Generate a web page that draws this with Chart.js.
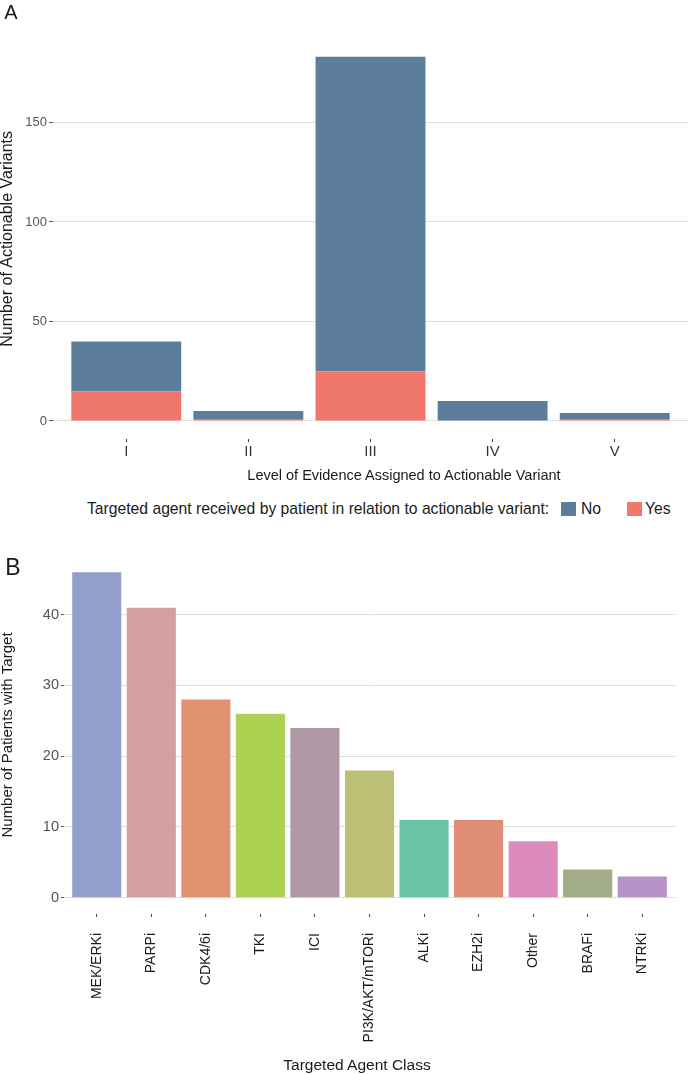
<!DOCTYPE html>
<html>
<head>
<meta charset="utf-8">
<script src="https://cdn.jsdelivr.net/npm/chart.js@4.4.0/dist/chart.umd.min.js"></script>
<style>
  body { margin: 0; background: #fff; font-family: "Liberation Sans", Arial, sans-serif; }
  #wrap { position: relative; width: 688px; height: 1074px; overflow: hidden; }
  canvas { position: absolute; left: 0; }
  .t { position: absolute; white-space: nowrap; color: #1a1a1a; line-height: 1; transform: translate(-50%, -50%); }
  .l { position: absolute; white-space: nowrap; color: #1a1a1a; line-height: 1; transform: translateY(-50%); }
  .sw { position: absolute; width: 15px; height: 14px; }
</style>
</head>
<body>
<div id="wrap">
  <canvas id="chartA" style="top:0; width:688px; height:470px;"></canvas>
  <canvas id="chartB" style="top:540px; width:688px; height:534px;"></canvas>

  <div class="t" style="left:11px; top:12px; font-size:20px;">A</div>
  <div class="t" style="left:404px; top:475px; font-size:14.5px;">Level of Evidence Assigned to Actionable Variant</div>
  <div class="l" style="left:87px; top:509px; font-size:15.7px;">Targeted agent received by patient in relation to actionable variant:</div>
  <div class="sw" id="swNo" style="left:561px; top:502px;"></div>
  <div class="l" style="left:581px; top:509px; font-size:15.7px;">No</div>
  <div class="sw" id="swYes" style="left:627px; top:502px;"></div>
  <div class="l" style="left:645px; top:509px; font-size:15.7px;">Yes</div>

  <div class="t" style="left:13px; top:567px; font-size:23px;">B</div>
  <div class="t" style="left:357px; top:1065px; font-size:15.5px;">Targeted Agent Class</div>
</div>

<script>
// Panel A: actionable variants by level of evidence
const levels = ['I', 'II', 'III', 'IV', 'V'];
const receivedYes = [15, 1, 25, 0, 1];
const receivedNo = [25, 4, 158, 10, 3];
const colorNo = '#5c7e9b';
const colorYes = '#f0776b';

// Panel B: patients per targeted agent class
const agentClasses = ['MEK/ERKi', 'PARPi', 'CDK4/6i', 'TKI', 'ICI', 'PI3K/AKT/mTORi',
  'ALKi', 'EZH2i', 'Other', 'BRAFi', 'NTRKi'];
const patientCounts = [46, 41, 28, 26, 24, 18, 11, 11, 8, 4, 3];
const agentColors = ['#919fca', '#d3a0a0', '#e0936e', '#acd254', '#b098a6', '#bcc076',
  '#6bc3a5', '#e08d77', '#dd8abd', '#a3ad89', '#b593c6'];

const yTicksA = [0, 50, 100, 150];
const yTicksB = [0, 10, 20, 30, 40];

document.getElementById('swNo').style.background = colorNo;
document.getElementById('swYes').style.background = colorYes;

const FONT = '"Liberation Sans", Arial, sans-serif';
const gridColor = '#dedede';

// replace generated ticks by a fixed list of values
function setTicks(list) {
  return function (scale) {
    scale.ticks = list.map(v => ({ value: v }));
  };
}

new Chart(document.getElementById('chartA'), {
  type: 'bar',
  data: {
    datasets: [
      { label: 'Yes', data: levels.map((l, i) => ({ x: i + 1, y: receivedYes[i] })), backgroundColor: colorYes },
      { label: 'No', data: levels.map((l, i) => ({ x: i + 1, y: receivedNo[i] })), backgroundColor: colorNo }
    ]
  },
  options: {
    responsive: false,
    animation: false,
    layout: { padding: { top: 38.6, right: 0, left: 0, bottom: 0 } },
    datasets: { bar: { barPercentage: 0.9, categoryPercentage: 1 } },
    plugins: { legend: { display: false }, tooltip: { enabled: false } },
    scales: {
      x: {
        type: 'linear', stacked: true, min: 0.4, max: 5.6, offset: false,
        afterBuildTicks: setTicks(levels.map((l, i) => i + 1)),
        afterFit: s => { s.height = 30.8; },
        border: { display: false },
        grid: { offset: false, drawOnChartArea: false, drawTicks: true, tickLength: 3, tickColor: '#444' },
        ticks: { padding: 1, color: '#333', font: { family: FONT, size: 15 },
          callback: v => levels[v - 1] }
      },
      y: {
        stacked: true, min: -9.15, max: 192.15,
        afterBuildTicks: setTicks(yTicksA),
        afterFit: s => { s.width = 53; },
        border: { display: false },
        grid: { color: gridColor, lineWidth: 1, tickLength: 4, tickColor: '#555' },
        ticks: { padding: 2, color: '#555', font: { family: FONT, size: 13 } },
        title: { display: true, text: 'Number of Actionable Variants', color: '#1a1a1a',
          padding: 0, font: { family: FONT, size: 16, lineHeight: 1 } }
      }
    }
  }
});

new Chart(document.getElementById('chartB'), {
  type: 'bar',
  data: {
    datasets: [
      { label: 'Patients', data: agentClasses.map((c, i) => ({ x: i + 1, y: patientCounts[i] })),
        backgroundColor: agentColors }
    ]
  },
  options: {
    responsive: false,
    animation: false,
    layout: { padding: { top: 16, right: 13, left: 0, bottom: 0 } },
    datasets: { bar: { barPercentage: 0.9, categoryPercentage: 1 } },
    plugins: { legend: { display: false }, tooltip: { enabled: false } },
    scales: {
      x: {
        type: 'linear', min: 0.4, max: 11.6, offset: false,
        afterBuildTicks: setTicks(agentClasses.map((c, i) => i + 1)),
        afterFit: s => { s.height = 160; },
        border: { display: false },
        grid: { offset: false, drawOnChartArea: false, drawTicks: true, tickLength: 3, tickColor: '#444' },
        ticks: { autoSkip: false, minRotation: 90, maxRotation: 90, padding: 16,
          color: '#1a1a1a', font: { family: FONT, size: 14 },
          callback: v => agentClasses[v - 1] }
      },
      y: {
        min: -2.3, max: 48.3,
        afterBuildTicks: setTicks(yTicksB),
        afterFit: s => { s.width = 64; },
        border: { display: false },
        grid: { color: gridColor, lineWidth: 1, tickLength: 3, tickColor: '#555' },
        ticks: { padding: 2, color: '#555', font: { family: FONT, size: 14.5 } },
        title: { display: true, text: 'Number of Patients with Target', color: '#1a1a1a',
          padding: 0, font: { family: FONT, size: 15, lineHeight: 1 } }
      }
    }
  }
});
</script>
</body>
</html>
